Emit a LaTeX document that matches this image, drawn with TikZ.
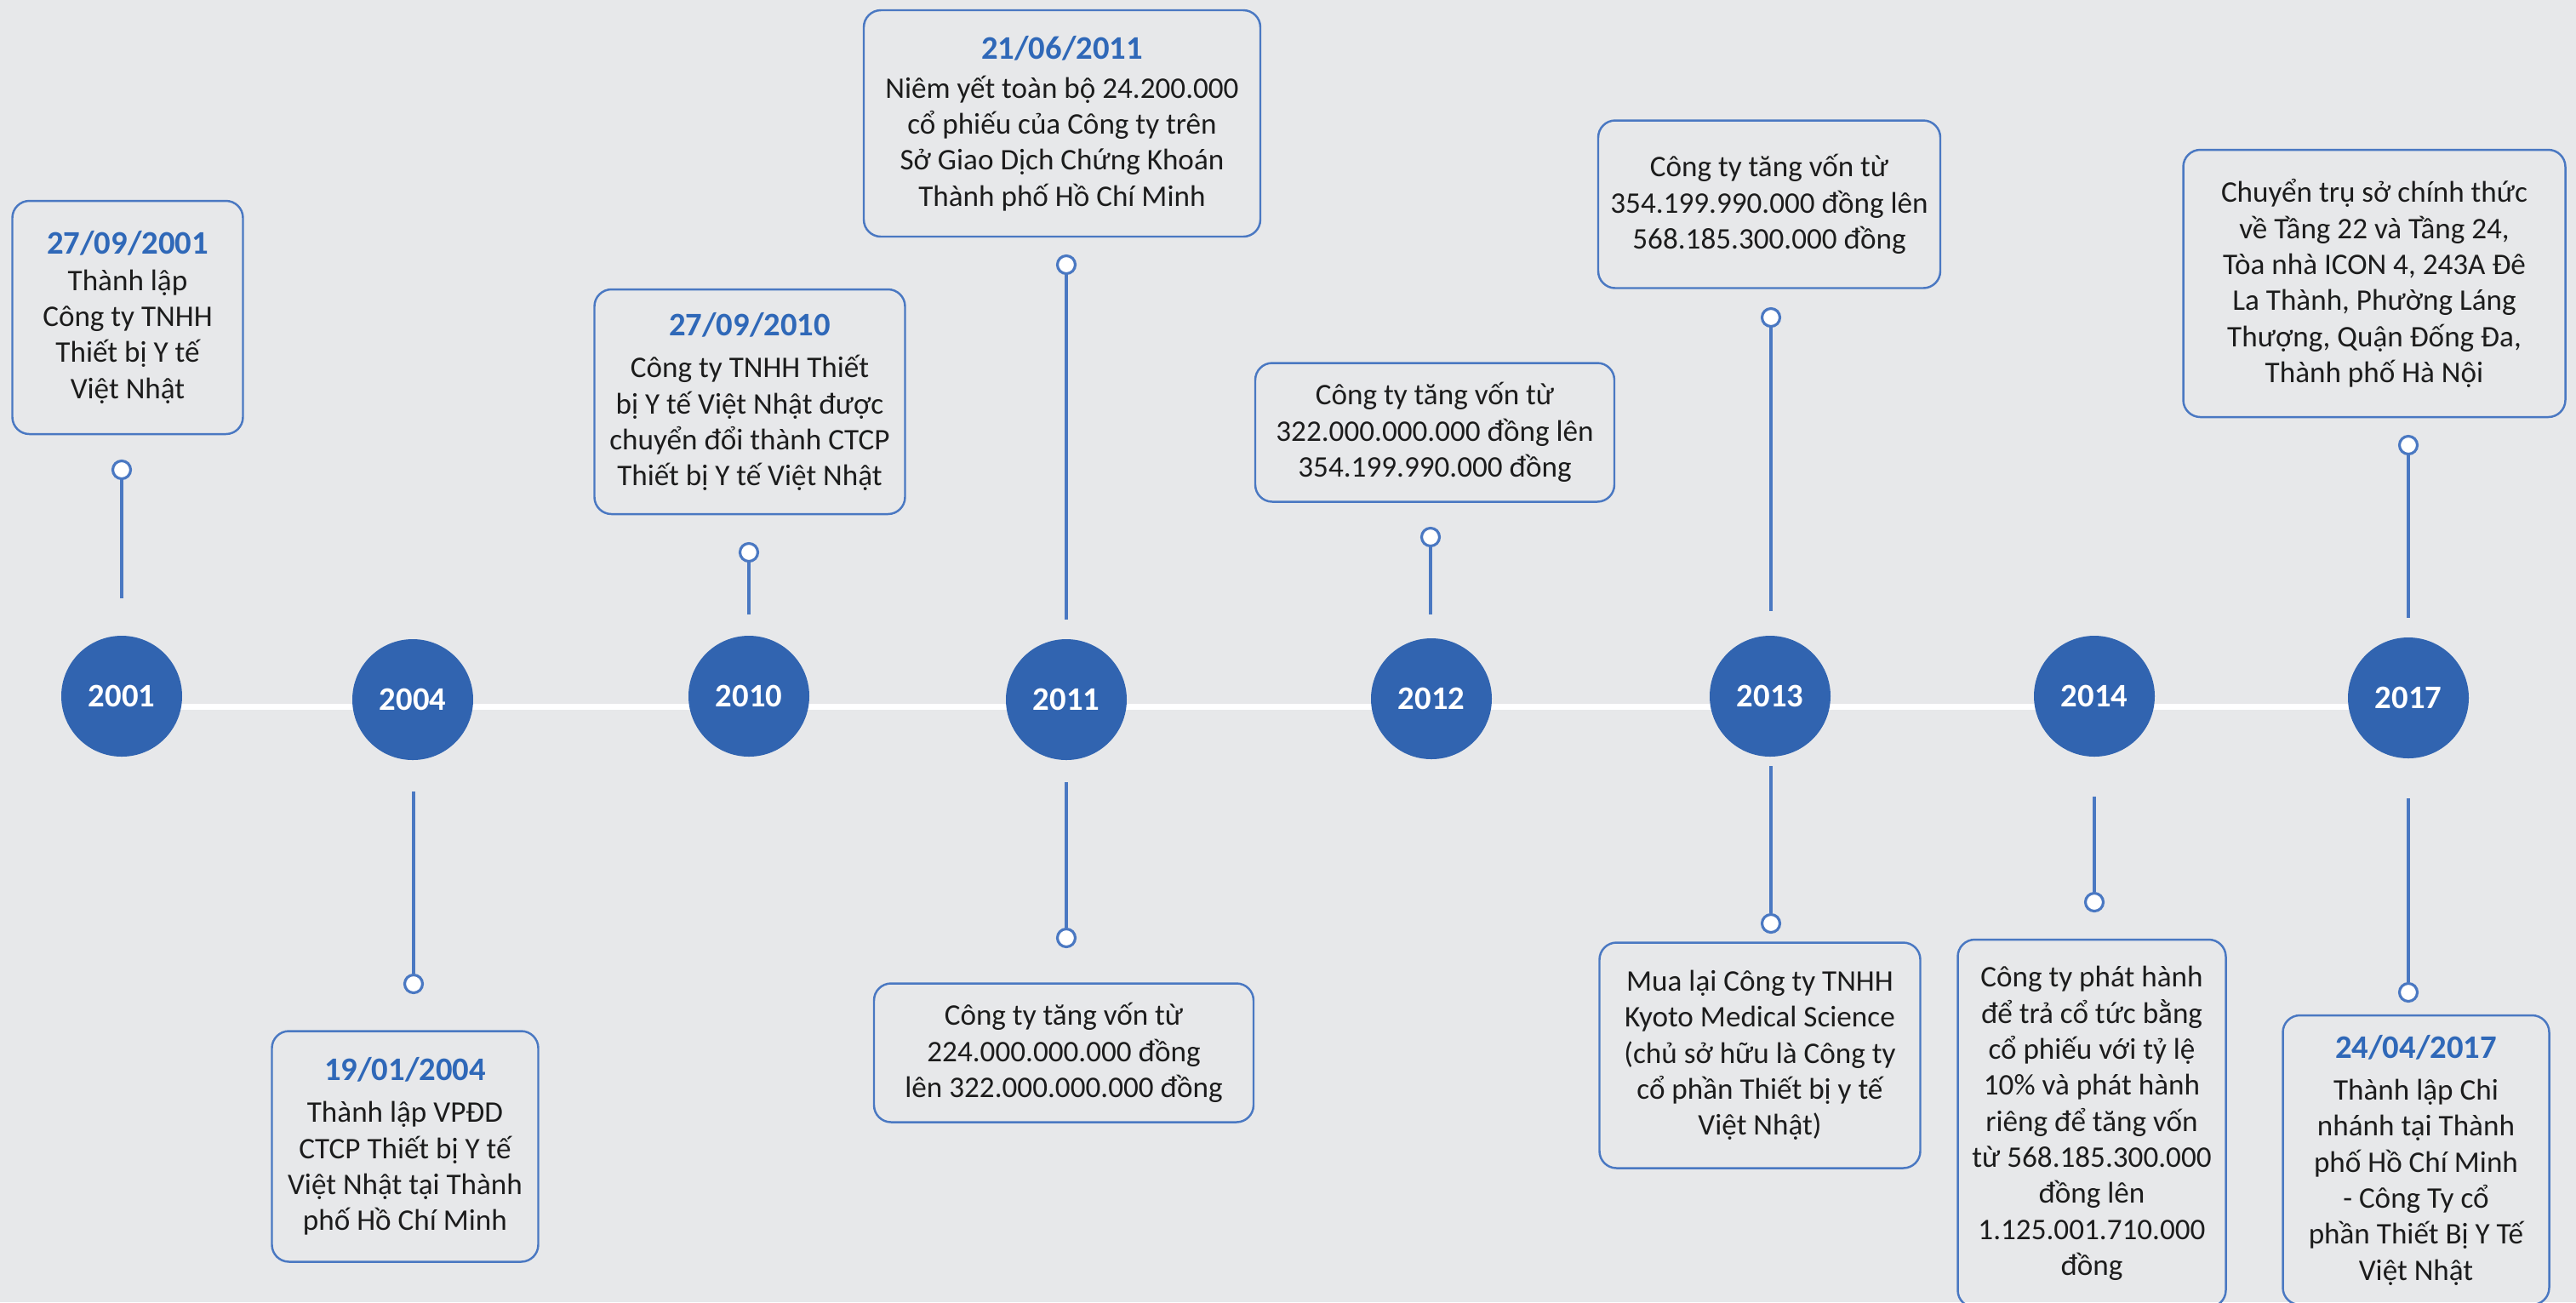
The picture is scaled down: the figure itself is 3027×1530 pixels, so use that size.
\documentclass[tikz,border=0pt]{standalone}
\usepackage{fontspec}
\setmainfont{Carlito}
\usepackage{tikz}

\definecolor{bggrey}{HTML}{E7E8EA}
\definecolor{vnblue}{HTML}{3164B0}
\definecolor{edgeblue}{HTML}{4A78C2}
\definecolor{dateblue}{HTML}{2F68B8}
\definecolor{inkc}{HTML}{1C1C1C}
\newcommand\evdate[1]{{\fontsize{11}{13}\selectfont\bfseries\color{dateblue}#1}}

\begin{document}
\begin{tikzpicture}[x=0.1mm, y=-0.1mm,
  year/.style={circle, fill=vnblue, text=white, minimum size=14.2mm, inner sep=0pt,
    font=\fontsize{11}{13}\selectfont\bfseries},
  event/.style={draw=edgeblue, line width=0.7pt, rounded corners=2mm, align=center,
    inner sep=0pt, text=inkc, font=\fontsize{10}{12.05}\selectfont},
  dot/.style={circle, draw=edgeblue, fill=white, line width=0.9pt, minimum size=2.1mm, inner sep=0pt},
  stem/.style={draw=edgeblue, line width=0.9pt},
  axis/.style={draw=white, line width=2pt}]
 \useasboundingbox (0,0) rectangle (3027,1530);
 \clip (0,0) rectangle (3027,1530);
 \fill[bggrey] (0,0) rectangle (3027,1530);

 % time axis
 \coordinate (axl) at (143,830);
 \coordinate (axr) at (2830,830);
 \draw[axis] (axl) -- (axr);

 % years
 \node[year] (y01) at (143,818) {2001};
 \node[year] (y04) at (485,822) {2004};
 \node[year] (y10) at (880,818) {2010};
 \node[year] (y11) at (1253,822) {2011};
 \node[year] (y12) at (1682,821) {2012};
 \node[year] (y13) at (2080,818) {2013};
 \node[year] (y14) at (2461,818) {2014};
 \node[year] (y17) at (2830,820) {2017};

 % events
 \node[event, minimum width=27.1mm, minimum height=27.4mm] (b01) at (150,373)
  {\evdate{27/09/2001}\\ Thành lập\\ Công ty TNHH\\ Thiết bị Y tế\\ Việt Nhật};
 \node[event, minimum width=31.3mm, minimum height=27.1mm] (b04) at (476,1347)
  {\evdate{19/01/2004}\\[2pt] Thành lập VPĐD\\ CTCP Thiết bị Y tế\\ Việt Nhật tại Thành\\ phố Hồ Chí Minh};
 \node[event, minimum width=36.5mm, minimum height=26.4mm] (b10) at (881,472)
  {\evdate{27/09/2010}\\[2pt] Công ty TNHH Thiết\\ bị Y tế Việt Nhật được\\ chuyển đổi thành CTCP\\ Thiết bị Y tế Việt Nhật};
 \node[event, minimum width=46.6mm, minimum height=26.6mm] (b11a) at (1248,145)
  {\evdate{21/06/2011}\\[1pt] Niêm yết toàn bộ 24.200.000\\ cổ phiếu của Công ty trên\\ Sở Giao Dịch Chứng Khoán\\ Thành phố Hồ Chí Minh};
 \node[event, minimum width=44.6mm, minimum height=16.3mm] (b11b) at (1250,1237)
  {Công ty tăng vốn từ\\ 224.000.000.000 đồng\\ lên 322.000.000.000 đồng};
 \node[event, minimum width=42.2mm, minimum height=16.3mm] (b12) at (1686,508)
  {Công ty tăng vốn từ\\ 322.000.000.000 đồng lên\\ 354.199.990.000 đồng};
 \node[event, minimum width=40.2mm, minimum height=19.7mm] (b13a) at (2079,240)
  {Công ty tăng vốn từ\\ 354.199.990.000 đồng lên\\ 568.185.300.000 đồng};
 \node[event, minimum width=37.7mm, minimum height=26.5mm] (b13b) at (2068,1240)
  {Mua lại Công ty TNHH\\ Kyoto Medical Science\\ (chủ sở hữu là Công ty\\ cổ phần Thiết bị y tế\\ Việt Nhật)};
 \node[event, minimum width=31.5mm, minimum height=43.2mm] (b14) at (2458,1320)
  {Công ty phát hành\\ để trả cổ tức bằng\\ cổ phiếu với tỷ lệ\\ 10\% và phát hành\\ riêng để tăng vốn\\ từ 568.185.300.000\\ đồng lên\\ 1.125.001.710.000\\ đồng};
 \node[event, minimum width=44.9mm, minimum height=31.4mm] (b17a) at (2790,333)
  {Chuyển trụ sở chính thức\\ về Tầng 22 và Tầng 24,\\ Tòa nhà ICON 4, 243A Đê\\ La Thành, Phường Láng\\ Thượng, Quận Đống Đa,\\ Thành phố Hà Nội};
 \node[event, minimum width=31.3mm, minimum height=34mm] (b17b) at (2839,1363)
  {\evdate{24/04/2017}\\[2pt] Thành lập Chi\\ nhánh tại Thành\\ phố Hồ Chí Minh\\ - Công Ty cổ\\ phần Thiết Bị Y Tế\\ Việt Nhật};

 % pins
 \node[dot] (d01) at (143,552) {};   \coordinate (s01) at (143,703);
 \node[dot] (d04) at (486,1156) {};  \coordinate (s04) at (486,930);
 \node[dot] (d10) at (880,649) {};   \coordinate (s10) at (880,722);
 \node[dot] (d11a) at (1253,311) {}; \coordinate (s11a) at (1253,728);
 \node[dot] (d11b) at (1253,1102) {};\coordinate (s11b) at (1253,919);
 \node[dot] (d12) at (1681,631) {};  \coordinate (s12) at (1681,722);
 \node[dot] (d13a) at (2081,373) {}; \coordinate (s13a) at (2081,718);
 \node[dot] (d13b) at (2081,1085) {};\coordinate (s13b) at (2081,900);
 \node[dot] (d14) at (2461,1060) {}; \coordinate (s14) at (2461,936);
 \node[dot] (d17a) at (2830,523) {}; \coordinate (s17a) at (2830,726);
 \node[dot] (d17b) at (2830,1166) {};\coordinate (s17b) at (2830,938);
 \path[stem]
  (d01) edge (s01) (d04) edge (s04) (d10) edge (s10)
  (d11a) edge (s11a) (d11b) edge (s11b) (d12) edge (s12)
  (d13a) edge (s13a) (d13b) edge (s13b) (d14) edge (s14)
  (d17a) edge (s17a) (d17b) edge (s17b);
\end{tikzpicture}
\end{document}
